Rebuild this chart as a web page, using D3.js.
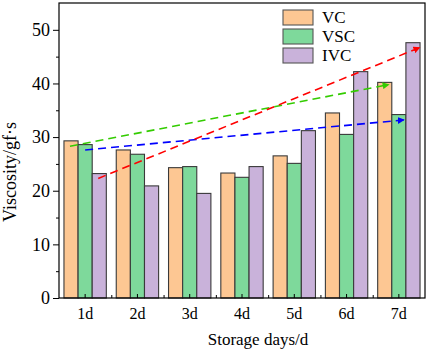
<!DOCTYPE html>
<html><head><meta charset="utf-8">
<script src="https://cdn.jsdelivr.net/npm/d3@7"></script>
<style>body{margin:0;background:#fff}svg{display:block}text{font-family:"Liberation Serif","Times New Roman",serif;fill:#000}</style>
</head><body><svg id="c" width="429" height="353"></svg>
<script>
const days = ["1d","2d","3d","4d","5d","6d","7d"];
const seriesNames = ["VC","VSC","IVC"];
const VC  = [29.3, 27.6, 24.3, 23.3, 26.5, 34.5, 40.2];
const VSC = [28.6, 26.8, 24.5, 22.5, 25.1, 30.5, 34.2];
const IVC = [23.2, 20.9, 19.5, 24.5, 31.2, 42.2, 47.6];
const colors = ["#FDC793", "#7ED99B", "#C9B2DA"];
const yTicks = [0,10,20,30,40,50];
// trend arrows: [x start (day position), y start, x end, y end]
const arrows = [
  {color:"#33CC00", x1:0.71, y1:28.3, x2:6.81, y2:39.8},
  {color:"#0000FF", x1:1.0,  y1:27.6, x2:7.1,  y2:33.2},
  {color:"#FF0000", x1:1.25, y1:22.3, x2:7.4,  y2:46.7}
];

const svg = d3.select("#c");
const L=59, R=425, T=3, B=298;
const x = d3.scaleBand().domain(days).range([L,R]).paddingInner(0.19).paddingOuter(0.095);
const step = (R-L)/days.length;
const xc = v => L + step*(v-0.5); // continuous day position
const xs = d3.scaleBand().domain(seriesNames).range([0,x.bandwidth()]);
const y = d3.scaleLinear().domain([0,55]).range([B,T]);
const data = [VC,VSC,IVC];

// bars
data.forEach((arr,si)=>{
  svg.append("g").selectAll("rect").data(arr).join("rect")
    .attr("x",(d,i)=>x(days[i])+xs(seriesNames[si]))
    .attr("y",d=>y(d)).attr("width",xs.bandwidth()).attr("height",d=>B-y(d))
    .attr("fill",colors[si]).attr("stroke","#3a3a3a").attr("stroke-width",1.1);
});

// arrows
const defs = svg.append("defs");
arrows.forEach((a,i)=>{
  defs.append("marker").attr("id","m"+i).attr("viewBox","0 0 10 10").attr("refX",9).attr("refY",5)
    .attr("markerWidth",7).attr("markerHeight",7).attr("markerUnits","userSpaceOnUse").attr("orient","auto")
    .append("path").attr("d","M0,0L10,5L0,10z").attr("fill",a.color);
  svg.append("line").attr("x1",xc(a.x1)).attr("y1",y(a.y1)).attr("x2",xc(a.x2)).attr("y2",y(a.y2))
    .attr("stroke",a.color).attr("stroke-width",1.6).attr("stroke-dasharray","8,5")
    .attr("marker-end","url(#m"+i+")");
});

// frame
svg.append("rect").attr("x",L).attr("y",T).attr("width",R-L).attr("height",B-T)
  .attr("fill","none").attr("stroke","#000").attr("stroke-width",1.2);

// y axis
const ya = svg.append("g").attr("transform",`translate(${L},0)`)
  .call(d3.axisLeft(y).tickValues(yTicks).tickSize(6).tickPadding(3));
ya.select(".domain").remove();
ya.selectAll("text").style("font-size","18px");
svg.append("g").attr("transform",`translate(${L},0)`)
  .call(d3.axisLeft(y).tickValues(d3.range(5,55,10)).tickSize(3).tickFormat(""))
  .select(".domain").remove();

// x axis (inward ticks)
const xa = svg.append("g").attr("transform",`translate(0,${B})`)
  .call(d3.axisBottom(x).tickSizeInner(-4).tickSizeOuter(0).tickPadding(10));
xa.select(".domain").remove();
xa.selectAll("text").style("font-size","16px");
svg.append("g").attr("transform",`translate(0,${B})`)
  .call(d3.axisBottom(d3.scaleLinear().domain([0,days.length]).range([L,R]))
    .tickValues(d3.range(1,days.length)).tickSize(-3).tickFormat(""))
  .select(".domain").remove();

// axis titles
svg.append("text").attr("x",258).attr("y",345).attr("text-anchor","middle")
  .style("font-size","17px").text("Storage days/d");
svg.append("text").attr("transform",`translate(16,172) rotate(-90)`).attr("text-anchor","middle")
  .style("font-size","18px").text("Viscosity/gf·s");

// legend
const lg = svg.append("g");
seriesNames.forEach((n,i)=>{
  lg.append("rect").attr("x",283).attr("y",10+i*19).attr("width",30).attr("height",15)
    .attr("fill",colors[i]).attr("stroke","#555").attr("stroke-width",1.1);
  lg.append("text").attr("x",322).attr("y",23+i*19).style("font-size","17px").text(n);
});
</script></body></html>
